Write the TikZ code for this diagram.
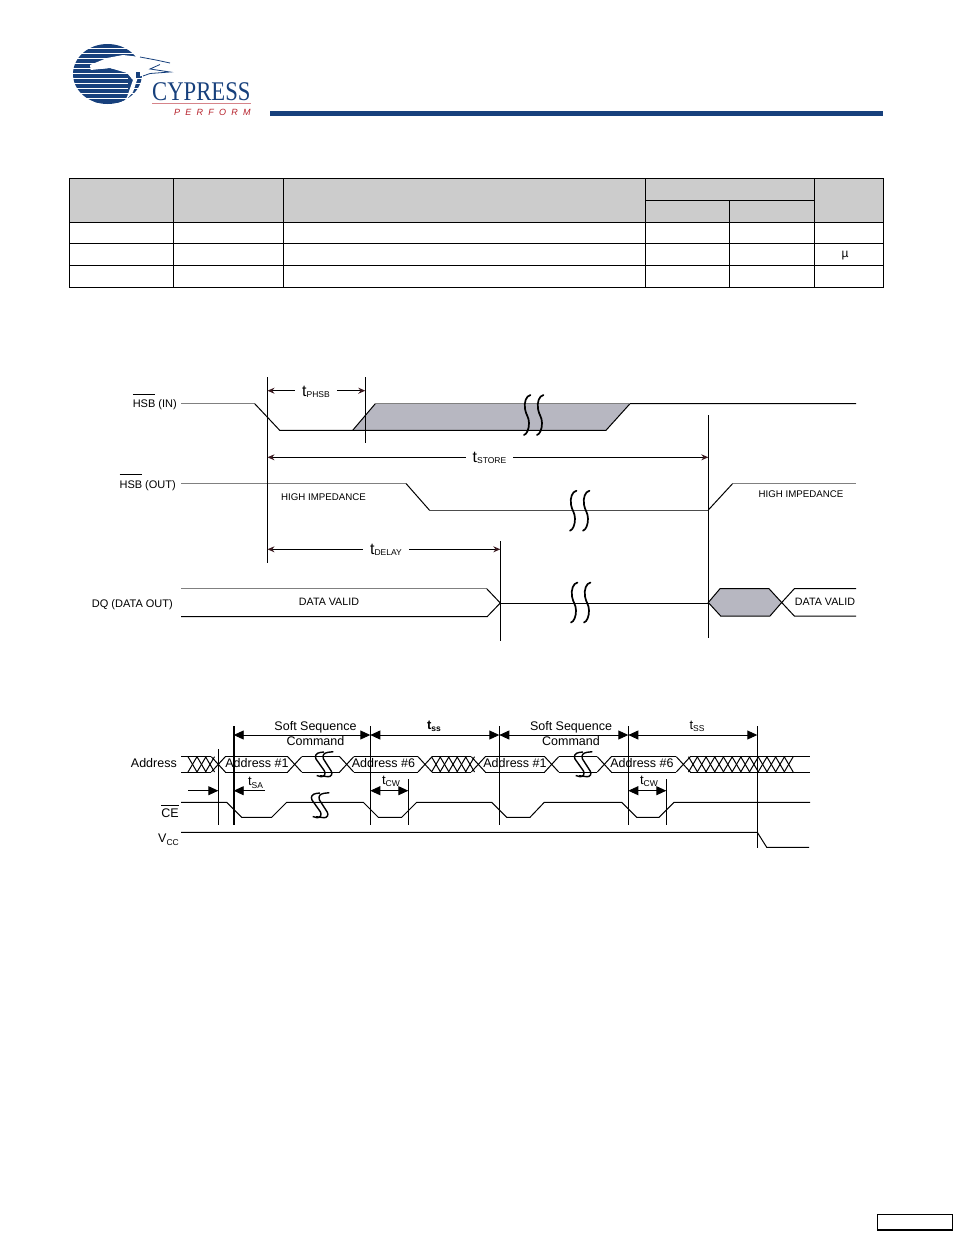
\documentclass[tikz,border=0pt]{standalone}
\usepackage{fontspec}
\setmainfont{Liberation Sans}
\newfontfamily\logoserif{Liberation Serif}
\newfontfamily\logoperf[LetterSpace=58]{Liberation Sans}
\usetikzlibrary{arrows.meta}
\definecolor{navy}{HTML}{17407C}
\definecolor{hdr}{HTML}{CCCCCC}
\definecolor{wavefill}{HTML}{B7B7C1}
\definecolor{tipdark}{HTML}{3A1A20}
\definecolor{logored}{HTML}{B5202A}
\newcommand{\fsz}[1]{\fontsize{#1}{#1}\selectfont}
\newcommand{\tlab}[1]{{\fsz{16}t}{\fsz{8.5}\raisebox{-1pt}{#1}}}
\newcommand{\tlow}[1]{{\fsz{13}t}{\fsz{8.5}\raisebox{-2.5pt}{#1}}}
\newcommand{\olbar}[2]{$\overline{\hbox{\rule{0pt}{#1pt}#2}}$}
\tikzset{
  grid/.style={draw=black,line width=1pt},
  wire/.style={draw=black,line width=1pt,line join=miter},
  softwire/.style={draw=black!50,line width=1.1pt},
  guide/.style={draw=black,line width=1pt},
  guidebold/.style={draw=black,line width=1.7pt},
  dimup/.style={draw=black,line width=.9pt,{Stealth[length=7pt,width=6pt,color=tipdark]}-},
  dimupr/.style={draw=black,line width=.9pt,-{Stealth[length=7pt,width=6pt,color=tipdark]}},
  dimlow/.style={draw=black,line width=.9pt,{Triangle[length=10pt,width=9pt]}-{Triangle[length=10pt,width=9pt]}},
  dimlowr/.style={draw=black,line width=.9pt,-{Triangle[length=10pt,width=9pt]}},
  lab/.style={inner sep=0pt,font=\fsz{11}},
  big/.style={inner sep=0pt,font=\fsz{12.5},align=center},
  tmark/.style={inner ysep=0pt,inner xsep=7pt},
  brk/.pic={
    \draw[black,line width=1.7pt,line cap=round]
      (3.5,-20) .. controls (-1,-19) and (-3,-13) .. (-2,-6)
      .. controls (-1,0) and (2,2) .. (2,8) .. controls (2,14) and (0,19) .. (-3,20);
  },
  brklow/.pic={
    \draw[black,line width=1.4pt]
      (1,-12) -- (-3,-11.5) .. controls (-7,-11) and (-8.5,-8) .. (-7,-5)
      -- (1.5,7) .. controls (3,10) and (1,13) .. (-2,12.7) -- (-6.3,11.5);
    \draw[black,line width=1.4pt]
      (10.3,-12.3) -- (5,-11.7) .. controls (1,-11) and (-1,-9) .. (0.5,-5)
      -- (8.2,7) .. controls (10,10) and (8,13) .. (5,12.7) -- (-3,11.7);
  }
}
\begin{document}
\begin{tikzpicture}[x=1pt,y=-1pt]
\useasboundingbox (0,0) rectangle (954,1235);

% ---------- logo ----------
\begin{scope}
  \clip (107.5,74) ellipse [x radius=34.5,y radius=30];
  \foreach \yy in {46,51,56,61,66,71,76,81,86,91,96,101}
    \fill[navy] (70,\yy-1.7) rectangle (145,\yy+1.7);
  \fill[navy] (88,70) -- (110,68) -- (127,73) -- (133,80) -- (127,97) -- (123,104) -- (95,104) -- cycle;
  \foreach \yy in {73.5,78.5,83.5,88.5,93.5,98.5}
    \draw[white,line width=.45pt] (84,\yy) -- (128,\yy);
\end{scope}
\fill[white] (90,65) -- (107,58) -- (123,55) -- (140,57) -- (160,63) -- (170,70) -- (170,72)
  -- (153,72) -- (138,77) -- (133,92) -- (123,103.5) -- (127,97) -- (133,80) -- (127,73)
  -- (110,68) -- (90.7,70) -- cycle;
\draw[navy,line width=.8pt] (140,57) -- (156,60) -- (170,63);
\draw[navy,line width=.8pt] (160,64.5) -- (150,69) -- (170,72) -- (150,73.5) -- (143,76);
\fill[navy] (136,72) rectangle (140,78);
\node[inner sep=0pt,anchor=base west,text=navy] (logoword) at (152,100)
  {\scalebox{.84}[1]{\logoserif\fsz{27}CYPRESS}};
\coordinate (logorulea) at (152,103.5);
\coordinate (logoruleb) at (251,103.5);
\draw[logored!55,line width=.5pt] (logorulea) -- (logoruleb);
\node[inner sep=0pt,anchor=base west,text=logored] (logoperform) at (174,115)
  {\logoperf\itshape\fsz{9}PERFORM};
\fill[navy] (270,111) rectangle (883,116);

% ---------- table ----------
\fill[hdr] (69.5,178.5) rectangle (883.5,222.5);
\draw[grid] (69.5,178.5) rectangle (883.5,287.5);
\draw[grid] (69.5,222.5) -- (883.5,222.5);
\draw[grid] (69.5,243.5) -- (883.5,243.5);
\draw[grid] (69.5,265.5) -- (883.5,265.5);
\draw[grid] (645.5,200.5) -- (814.5,200.5);
\draw[grid] (173.5,178.5) -- (173.5,287.5);
\draw[grid] (283.5,178.5) -- (283.5,287.5);
\draw[grid] (645.5,178.5) -- (645.5,287.5);
\draw[grid] (729.5,200.5) -- (729.5,287.5);
\draw[grid] (814.5,178.5) -- (814.5,287.5);
\node[lab,font=\fsz{12}] (mu) at (845,255.5) {µ};

% ---------- upper timing diagram ----------
\node[lab,anchor=base east] (hsbin) at (177,407.5) {\olbar{12}{HSB} (IN)};
\node[lab,anchor=base east] (hsbout) at (176,488) {\olbar{12}{HSB} (OUT)};
\node[lab,anchor=base east] (dq) at (173,607) {DQ (DATA OUT)};

\fill[wavefill] (352.7,430.3) -- (375.3,403.7) -- (630,403.7) -- (606,430.3) -- cycle;
\draw[softwire] (181,403.7) -- (254.7,403.7);
\draw[wire] (254.7,403.7) -- (279.7,430.3) -- (606,430.3) -- (630,403.7) -- (856,403.7);
\draw[wire] (352.7,430.3) -- (375.3,403.7);
\draw[softwire,line width=.7pt] (375.3,403.7) -- (630,403.7);

\draw[softwire] (181,483.5) -- (406,483.5);
\draw[wire] (406,483.5) -- (429.3,510);
\draw[wire,draw=black!70] (429.3,510) -- (708.3,510);
\draw[wire] (708.3,510) -- (732.7,483.5);
\draw[softwire] (732.7,483.5) -- (856,483.5);

\draw[softwire] (181,588.7) -- (486.7,588.7);
\draw[wire] (486.7,588.7) -- (500.3,603) -- (487.3,616.5) -- (181,616.5);
\draw[wire] (500.3,603) -- (708.3,603);
\draw[wire,fill=wavefill] (708.3,602.5) -- (720,588.7) -- (769,588.7) -- (781.7,602.5)
  -- (770,616) -- (720.7,616) -- cycle;
\draw[wire] (781.7,602.5) -- (794.3,588.7) -- (856,588.7);
\draw[wire] (781.7,602.5) -- (794.3,616) -- (856,616);

\coordinate (ga1) at (267.5,377);   \coordinate (ga2) at (267.5,562.7);
\coordinate (gb1) at (365.3,377);   \coordinate (gb2) at (365.3,443);
\coordinate (gc1) at (500.3,541);   \coordinate (gc2) at (500.3,641);
\coordinate (gd1) at (708.3,415);   \coordinate (gd2) at (708.3,638);
\draw[guide] (ga1) -- (ga2);
\draw[guide] (gb1) -- (gb2);
\draw[guide] (gc1) -- (gc2);
\draw[guide] (gd1) -- (gd2);

\pic at (527,415) {brk};
\pic at (540,415) {brk};
\pic at (573,510.7) {brk};
\pic at (586,510.7) {brk};
\pic at (574,602.5) {brk};
\pic at (587,602.5) {brk};

\node[tmark] (tphsb) at (316,391.5) {\tlab{PHSB}};
\coordinate (tpl) at (267.5,390.7); \coordinate (tpr) at (365.3,390.7);
\draw[dimup] (tpl) -- (tpl -| tphsb.west);
\draw[dimupr] (tpl -| tphsb.east) -- (tpr);

\node[tmark] (tstore) at (489.5,458) {\tlab{STORE}};
\coordinate (tsl) at (267.5,457.3); \coordinate (tsr) at (708.3,457.3);
\draw[dimup] (tsl) -- (tsl -| tstore.west);
\draw[dimupr] (tsl -| tstore.east) -- (tsr);

\node[tmark] (tdelay) at (386,550) {\tlab{DELAY}};
\coordinate (tdl) at (267.5,549.3); \coordinate (tdr) at (500.3,549.3);
\draw[dimup] (tdl) -- (tdl -| tdelay.west);
\draw[dimupr] (tdl -| tdelay.east) -- (tdr);

\node[lab,font=\fsz{9.7}] (hiza) at (323.5,497) {HIGH IMPEDANCE};
\node[lab,font=\fsz{9.7}] (hizb) at (801,494) {HIGH IMPEDANCE};
\node[lab,font=\fsz{10.7}] (dva) at (329,601.5) {DATA VALID};
\node[lab,font=\fsz{10.7}] (dvb) at (825,602) {DATA VALID};

% ---------- lower timing diagram ----------
\foreach \a/\b in {181/211.3,225.3/287.7,301.7/339.7,353.7/418,432/471.3,485.3/544.7,558.7/597.3,611.3/676.3,690.3/810}{
  \draw[wire] (\a,756.7) -- (\b,756.7);
  \draw[wire] (\a,772) -- (\b,772);
}
\foreach \c in {218.3,294.7,346.7,425,478.3,551.7,604.3,683.3}{
  \draw[wire] (\c-7,756.7) -- (\c+7,772);
  \draw[wire] (\c-7,772) -- (\c+7,756.7);
}
\foreach \c in {192.5,201.5,210}{
  \draw[wire] (\c-4.5,756.7) -- (\c+4.5,772);
  \draw[wire] (\c-4.5,772) -- (\c+4.5,756.7);
}
\foreach \c in {436,444.5,453,461.5,470}{
  \draw[wire] (\c-4.5,756.7) -- (\c+4.5,772);
  \draw[wire] (\c-4.5,772) -- (\c+4.5,756.7);
}
\foreach \i in {0,...,11}{
  \draw[wire] (693+8.7*\i-4.5,756.7) -- (693+8.7*\i+4.5,772);
  \draw[wire] (693+8.7*\i-4.5,772) -- (693+8.7*\i+4.5,756.7);
}
\draw[wire] (181,802.3) -- (226.7,802.3) -- (241.7,817.3) -- (271.7,817.3) -- (286.7,802.3)
  -- (363.3,802.3) -- (378.3,817.3) -- (401.7,817.3) -- (416.7,802.3)
  -- (491.7,802.3) -- (506.7,817.3) -- (530,817.3) -- (544.3,802.3)
  -- (621.7,802.3) -- (636.7,817.3) -- (659,817.3) -- (674,802.3) -- (810,802.3);
\draw[wire] (181,832.3) -- (757.3,832.3) -- (766.7,847.3) -- (809,847.3);

\coordinate (va1) at (218.3,749);   \coordinate (va2) at (218.3,825.3);
\coordinate (vb1) at (233.7,726);   \coordinate (vb2) at (233.7,825.3);
\coordinate (vc1) at (370.3,726);   \coordinate (vc2) at (370.3,825.3);
\coordinate (vd1) at (408.3,779.3); \coordinate (vd2) at (408.3,825.3);
\coordinate (ve1) at (499.3,726);   \coordinate (ve2) at (499.3,825.3);
\coordinate (vf1) at (628.3,726);   \coordinate (vf2) at (628.3,825.3);
\coordinate (vg1) at (666.3,779.3); \coordinate (vg2) at (666.3,825.3);
\coordinate (vh1) at (757.3,726);   \coordinate (vh2) at (757.3,847.7);
\draw[guide] (va1) -- (va2);
\draw[guidebold] (vb1) -- (vb2);
\draw[guide] (vc1) -- (vc2);
\draw[guide] (vd1) -- (vd2);
\draw[guide] (ve1) -- (ve2);
\draw[guide] (vf1) -- (vf2);
\draw[guide] (vg1) -- (vg2);
\draw[guide] (vh1) -- (vh2);

\coordinate (ab) at (233.7,735); \coordinate (ac) at (370.3,735);
\coordinate (ae) at (499.3,735); \coordinate (af) at (628.3,735);
\coordinate (ah) at (757.3,735);
\draw[dimlow] (ab) -- (ac);
\draw[dimlow] (ac) -- (ae);
\draw[dimlow] (ae) -- (af);
\draw[dimlow] (af) -- (ah);

\coordinate (sa0) at (188.3,790.7); \coordinate (sa1) at (218.3,790.7);
\coordinate (sa2) at (233.7,790.7); \coordinate (sa3) at (265,790.7);
\draw[dimlowr] (sa0) -- (sa1);
\draw[dimlowr] (sa3) -- (sa2);
\coordinate (cwa) at (370.3,790.7); \coordinate (cwb) at (408.3,790.7);
\coordinate (cwc) at (628.3,790.7); \coordinate (cwd) at (666.3,790.7);
\draw[dimlow] (cwa) -- (cwb);
\draw[dimlow] (cwc) -- (cwd);

\pic at (323,764) {brklow};
\pic at (582,764) {brklow};
\pic at (319,805) {brklow};

\node[big] (ss1) at (315.5,727) {Soft Sequence};
\node[big] (cm1) at (315.5,741.5) {Command};
\node[big] (ss2) at (571,727) {Soft Sequence};
\node[big] (cm2) at (571,741.5) {Command};
\node[inner sep=0pt] (tss1) at (434,726.5) {\bfseries\tlow{ss}};
\node[inner sep=0pt] (tss2) at (697,726.5) {\tlow{SS}};
\node[inner sep=0pt] (tsa) at (255.5,783) {\tlow{SA}};
\node[inner sep=0pt] (tcw1) at (391,781.5) {\tlow{CW}};
\node[inner sep=0pt] (tcw2) at (649,781.5) {\tlow{CW}};

\node[big,anchor=base east] (addr) at (177,767) {Address};
\node[big,anchor=base east] (ce) at (179,817) {\olbar{10.5}{CE}};
\node[big,anchor=base west] (vcc) at (158,842.5) {V{\fsz{8.5}\raisebox{-2.5pt}{CC}}};
\node[big] (a1) at (257,763) {Address \#1};
\node[big] (a6) at (383.5,763) {Address \#6};
\node[big] (a1b) at (515,763) {Address \#1};
\node[big] (a6b) at (642,763) {Address \#6};

% ---------- footer box ----------
\draw[black,line width=1.2pt] (877.5,1214.5) rectangle (952.5,1230);
\end{tikzpicture}
\end{document}
